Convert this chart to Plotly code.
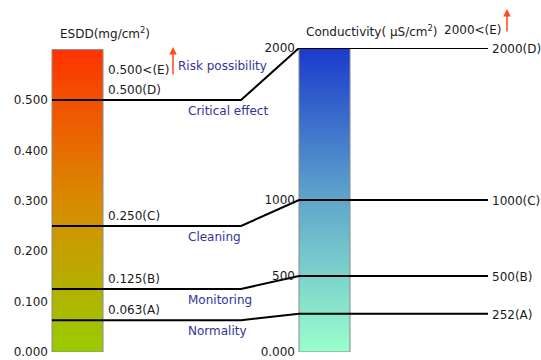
import plotly.graph_objects as go

# ---- data ----
levels = ["A", "B", "C", "D"]
esdd_values = [0.063, 0.125, 0.250, 0.500]          # mg/cm2
cond_values = [252, 500, 1000, 2000]                # uS/cm2
descriptions = ["Normality", "Monitoring", "Cleaning", "Critical effect"]
esdd_ticks = [0.0, 0.1, 0.2, 0.3, 0.4, 0.5]
cond_ticks = [0, 500, 1000, 2000]
cond_tick_text = ["0.000", "500", "1000", "2000"]
esdd_max = 0.6
cond_max = 2000
esdd_e = 0.500
cond_e = 2000

# ---- layout constants (pixels) ----
W, H = 541, 360
Y_BOT, Y_TOP = 352, 48
ESDD_RANGE = [0, 0.6032]
COND_RANGE = [0, 2000]
k = COND_RANGE[1] / ESDD_RANGE[1]   # esdd -> cond-axis units (same domain)

BAR1 = (52, 103)
BAR2 = (299, 350)
KINK_X = 241
END_X = 488

FONT = "DejaVu Sans"
BLUE = "#333399"
TXT = "#1a1a1a"
RED = "#ff4a1c"
FS = 12


def py(y):
    return (H - y) / H


fig = go.Figure()

# gradient bars
fig.add_trace(go.Scatter(
    x=[BAR1[0], BAR1[1], BAR1[1], BAR1[0], BAR1[0]],
    y=[0, 0, esdd_max, esdd_max, 0],
    mode="lines", fill="toself",
    line=dict(color="#8a8a8a", width=1),
    fillgradient=dict(type="vertical",
                      colorscale=[[0, "#99cc00"], [0.5, "#d98a00"], [1, "#ff3300"]]),
    hoverinfo="skip", showlegend=False, yaxis="y"))

fig.add_trace(go.Scatter(
    x=[BAR2[0], BAR2[1], BAR2[1], BAR2[0], BAR2[0]],
    y=[0, 0, cond_max, cond_max, 0],
    mode="lines", fill="toself",
    line=dict(color="#8a8a8a", width=1),
    fillgradient=dict(type="vertical",
                      colorscale=[[0, "#99ffcc"], [0.5, "#60a6cc"], [1, "#1a3acc"]]),
    hoverinfo="skip", showlegend=False, yaxis="y2"))

# level lines
for e, c in zip(esdd_values, cond_values):
    fig.add_trace(go.Scatter(
        x=[BAR1[0], KINK_X, BAR2[0], END_X],
        y=[e * k, e * k, c, c],
        mode="lines", line=dict(color="black", width=2),
        hoverinfo="skip", showlegend=False, yaxis="y2"))

ann = []
# level labels (left)
for lv, e, d in zip(levels, esdd_values, descriptions):
    ann.append(dict(x=106, y=e, xref="x", yref="y", text=f"{e:.3f}({lv})",
                    xanchor="left", yanchor="middle", yshift=10, showarrow=False,
                    font=dict(size=FS, color=TXT, family=FONT)))
    ann.append(dict(x=186, y=e, xref="x", yref="y", text=d,
                    xanchor="left", yanchor="middle", yshift=-11, showarrow=False,
                    font=dict(size=FS, color=BLUE, family=FONT)))
# right labels
for lv, c in zip(levels, cond_values):
    ann.append(dict(x=490, y=c, xref="x", yref="y2", text=f"{c}({lv})",
                    xanchor="left", yanchor="middle", yshift=-1, showarrow=False,
                    font=dict(size=FS, color=TXT, family=FONT)))

# E labels
ann.append(dict(x=106, y=esdd_e, xref="x", yref="y", text=f"{esdd_e:.3f}<(E)",
                xanchor="left", yanchor="middle", yshift=30, showarrow=False,
                font=dict(size=FS, color=TXT, family=FONT)))
ann.append(dict(x=176, y=esdd_e, xref="x", yref="y", text="Risk possibility",
                xanchor="left", yanchor="middle", yshift=34, showarrow=False,
                font=dict(size=FS, color=BLUE, family=FONT)))
ann.append(dict(x=442, y=py(30), xref="x", yref="paper", text=f"{cond_e}<(E)",
                xanchor="left", yanchor="middle", showarrow=False,
                font=dict(size=FS, color=TXT, family=FONT)))

# arrows
ann.append(dict(x=173, y=py(47), xref="x", yref="paper", ax=0, ay=29, text="",
                showarrow=True, arrowhead=2, arrowsize=1, arrowwidth=1.5, arrowcolor=RED))
ann.append(dict(x=507, y=py(9), xref="x", yref="paper", ax=0, ay=24, text="",
                showarrow=True, arrowhead=2, arrowsize=1, arrowwidth=1.5, arrowcolor=RED))

# titles
ann.append(dict(x=58, y=py(33), xref="x", yref="paper", text="ESDD(mg/cm<sup>2</sup>)",
                xanchor="left", yanchor="middle", showarrow=False,
                font=dict(size=FS, color=TXT, family=FONT)))
ann.append(dict(x=304, y=py(31), xref="x", yref="paper",
                text="Conductivity( \u03bcS/cm<sup>2</sup>)",
                xanchor="left", yanchor="middle", showarrow=False,
                font=dict(size=FS, color=TXT, family=FONT)))

fig.update_layout(
    width=W, height=H,
    margin=dict(l=0, r=0, t=0, b=0, autoexpand=False),
    paper_bgcolor="white", plot_bgcolor="white",
    showlegend=False,
    font=dict(family=FONT, size=FS, color=TXT),
    xaxis=dict(range=[0, W], domain=[0, 1], visible=False, fixedrange=True,
               automargin=False),
    yaxis=dict(range=ESDD_RANGE, domain=[py(Y_BOT), py(Y_TOP)],
               anchor="free", position=BAR1[0] / W, side="left",
               tickvals=esdd_ticks, tickformat=".3f", automargin=False,
               showgrid=False, zeroline=False, showline=False, ticks="",
               ticklabelstandoff=4,
               tickfont=dict(size=FS, color=TXT, family=FONT)),
    yaxis2=dict(range=COND_RANGE, overlaying="y", automargin=False,
                anchor="free", position=BAR2[0] / W, side="left",
                tickvals=cond_ticks, ticktext=cond_tick_text,
                showgrid=False, zeroline=False, showline=False, ticks="",
                ticklabelstandoff=4,
                tickfont=dict(size=FS, color=TXT, family=FONT)),
    annotations=ann,
)

fig.write_html("out.html",
               config={"displayModeBar": False},
               post_script="document.body.style.margin='0';document.body.style.padding='0';")
